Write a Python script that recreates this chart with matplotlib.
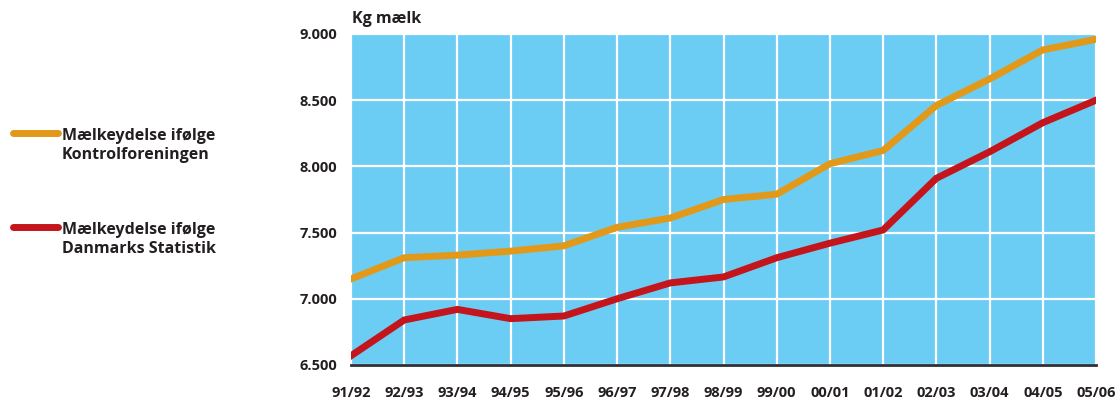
import matplotlib.pyplot as plt
from matplotlib.lines import Line2D

# sæsoner og mælkeydelse (kg mælk pr. ko)
seasons = ['91/92', '92/93', '93/94', '94/95', '95/96', '96/97', '97/98', '98/99',
           '99/00', '00/01', '01/02', '02/03', '03/04', '04/05', '05/06']
kontrol = [7150, 7310, 7330, 7360, 7400, 7540, 7610, 7750, 7790, 8020, 8120,
           8460, 8660, 8880, 8960]
statistik = [6570, 6840, 6920, 6850, 6870, 7000, 7120, 7165, 7310, 7420, 7520,
             7910, 8110, 8330, 8500]
yticks = [6500, 7000, 7500, 8000, 8500, 9000]

c_orange = '#e2991a'
c_red = '#c4151c'
c_txt = '#231f20'

plt.rcParams['font.family'] = ['Open Sans', 'DejaVu Sans']

fig = plt.figure(figsize=(11.17, 4.03), dpi=100)
ax = fig.add_axes([351/1117, 38/403, 745/1117, 331/403])
ax.set_facecolor('#6bcdf4')

x = range(len(seasons))
ax.plot(x, kontrol, color=c_orange, lw=5, solid_joinstyle='miter', zorder=3)
ax.plot(x, statistik, color=c_red, lw=5, solid_joinstyle='miter', zorder=3)

ax.set_xlim(0, len(seasons) - 1)
ax.set_ylim(6500, 9000)
ax.set_xticks(list(x))
ax.set_xticklabels(seasons)
ax.set_yticks(yticks)
ax.set_yticklabels([f'{v:,}'.replace(',', '.') for v in yticks])
ax.grid(True, color='white', lw=1.6)
ax.set_axisbelow(True)
ax.tick_params(length=0, labelsize=10.5, labelcolor=c_txt)
ax.tick_params(axis='x', pad=15)
ax.tick_params(axis='y', pad=10)
for lab in ax.get_xticklabels() + ax.get_yticklabels():
    lab.set_fontweight('bold')
for s in ['top', 'right', 'left']:
    ax.spines[s].set_visible(False)
ax.spines['bottom'].set_color('#2b3036')
ax.spines['bottom'].set_linewidth(2)

fig.text(352/1117, 1 - 19/403, 'Kg mælk', fontsize=11.5, fontweight='bold',
         color=c_txt, va='center', ha='left')

# legende
entries = [(c_orange, 'Mælkeydelse ifølge\nKontrolforeningen', 133),
           (c_red, 'Mælkeydelse ifølge\nDanmarks Statistik', 227)]
for col, txt, ypix in entries:
    yf = 1 - ypix / 403
    fig.add_artist(Line2D([13/1117, 58/1117], [yf, yf], color=col, lw=5,
                          solid_capstyle='round', transform=fig.transFigure))
    fig.text(62/1117, yf + 5/403, txt, fontsize=11.5, fontweight='bold',
             color=c_txt, va='top', ha='left', linespacing=1.25)

fig.savefig('out.png', dpi=100)
